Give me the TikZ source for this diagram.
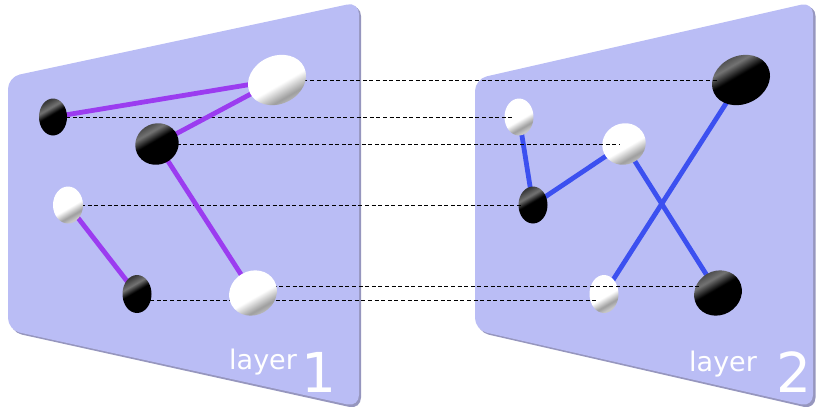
\documentclass[tikz,border=0pt]{standalone}
\usepackage{fontspec}
\newfontfamily\labelfont{DejaVu Sans}
\usetikzlibrary{shapes.geometric}
\definecolor{panelfill}{RGB}{186,189,245}
\definecolor{panelshadow}{RGB}{150,150,190}
\definecolor{layone}{RGB}{155,60,240}
\definecolor{laytwo}{RGB}{60,80,240}
\pgfdeclarehorizontalshading{wshade}{100bp}{color(0bp)=(white); color(25bp)=(white); color(54bp)=(white); color(66bp)=(black!38); color(73bp)=(black!22); color(100bp)=(black!22)}
\pgfdeclarehorizontalshading{bshade}{100bp}{color(0bp)=(black!78); color(25bp)=(black!78); color(36bp)=(black!55); color(46bp)=(black); color(100bp)=(black)}
\pgfdeclarelayer{panels}
\pgfdeclarelayer{edgestwo}
\pgfdeclarelayer{nodestwo}
\pgfdeclarelayer{dashes}
\pgfdeclarelayer{edgesone}
\pgfsetlayers{panels,edgestwo,nodestwo,dashes,edgesone,main}
\begin{document}
\begin{tikzpicture}[x=1pt,y=-1pt,
  wnode/.style={ellipse, inner sep=0pt, shading=wshade, shading angle=-60},
  bnode/.style={ellipse, inner sep=0pt, shading=bshade, shading angle=-60},
  edgeone/.style={draw=layone, line width=4.8pt},
  edgetwo/.style={draw=laytwo, line width=4.8pt},
  dashline/.style={draw=black, line width=0.9pt, dash pattern=on 4pt off 2.6pt},
  panel/.style={fill=panelfill, rounded corners=12pt},
  pshadow/.style={fill=panelshadow, rounded corners=12pt},
  smalltxt/.style={text=white, font=\labelfont\fontsize{27}{27}\selectfont, inner sep=0pt, anchor=base west},
  bigtxt/.style={text=white, font=\labelfont\fontsize{55}{55}\selectfont, inner sep=0pt, anchor=base west}
]
\useasboundingbox (0,0) rectangle (817,410);

% layer 2 nodes
\begin{pgfonlayer}{nodestwo}
\node[bnode, minimum width=60pt, minimum height=48pt, rotate=25] (g) at (741,80) {};
\node[wnode, minimum width=29pt, minimum height=37pt] (h) at (519,117) {};
\node[wnode, minimum width=44pt, minimum height=41pt, rotate=25] (i) at (624,144) {};
\node[bnode, minimum width=29pt, minimum height=37pt] (j) at (533,205) {};
\node[wnode, minimum width=29pt, minimum height=38pt] (k) at (604,294) {};
\node[bnode, minimum width=49pt, minimum height=44pt, rotate=30] (l) at (718,293) {};
\end{pgfonlayer}

% layer 1 nodes
\node[bnode, minimum width=28pt, minimum height=37pt] (a) at (53,117) {};
\node[wnode, minimum width=60pt, minimum height=48pt, rotate=25] (b) at (277,80) {};
\node[bnode, minimum width=44pt, minimum height=41pt, rotate=25] (c) at (157,144) {};
\node[wnode, minimum width=30pt, minimum height=37pt] (d) at (68,205) {};
\node[bnode, minimum width=29pt, minimum height=38pt] (e) at (137,294) {};
\node[wnode, minimum width=49pt, minimum height=44pt, rotate=30] (f) at (253,293) {};

% panels
\begin{pgfonlayer}{panels}
\path[pshadow] (10,200) -- (10,79) -- (361,4) -- (361,409.5) -- (10,332) -- cycle;
\path[panel] (8,200) -- (8,77) -- (359,2) -- (359,407) -- (8,330) -- cycle;
\path[pshadow] (477,200) -- (477,81) -- (815.5,4) -- (815.5,409.5) -- (477,332) -- cycle;
\path[panel] (475,200) -- (475,79) -- (813,2) -- (813,407) -- (475,330) -- cycle;
\end{pgfonlayer}

% layer 2 edges
\begin{pgfonlayer}{edgestwo}
\draw[edgetwo] (h.center) -- (j.center);
\draw[edgetwo] (j.center) -- (i.center);
\draw[edgetwo] (i.center) -- (l.center);
\draw[edgetwo] (g.center) -- (k.center);
\end{pgfonlayer}

% dashed correspondences
\begin{pgfonlayer}{dashes}
\draw[dashline] (b.center) -- ([xshift=-22pt]g.center);
\draw[dashline] (a.center) -- ([xshift=-6pt]h.center);
\draw[dashline] (c.center) -- ([xshift=-4pt]i.center);
\draw[dashline] (d.center) -- ([xshift=-10pt]j.center);
\draw[dashline] ([yshift=7pt]f.center) -- ([xshift=-18pt,yshift=7pt]l.center);
\draw[dashline] ([yshift=-6pt]e.center) -- ([xshift=-7pt,yshift=-6pt]k.center);
\end{pgfonlayer}

% layer 1 edges
\begin{pgfonlayer}{edgesone}
\draw[edgeone] (a.center) -- (b.center);
\draw[edgeone] (b.center) -- (c.center);
\draw[edgeone] (c.center) -- (f.center);
\draw[edgeone] (d.center) -- (e.center);
\end{pgfonlayer}

% labels
\node[smalltxt] (t1a) at (229,369) {layer};
\node[bigtxt] (t1b) at (301,392) {1};
\node[smalltxt] (t2a) at (689,371) {layer};
\node[bigtxt] (t2b) at (776,392) {2};
\end{tikzpicture}
\end{document}
